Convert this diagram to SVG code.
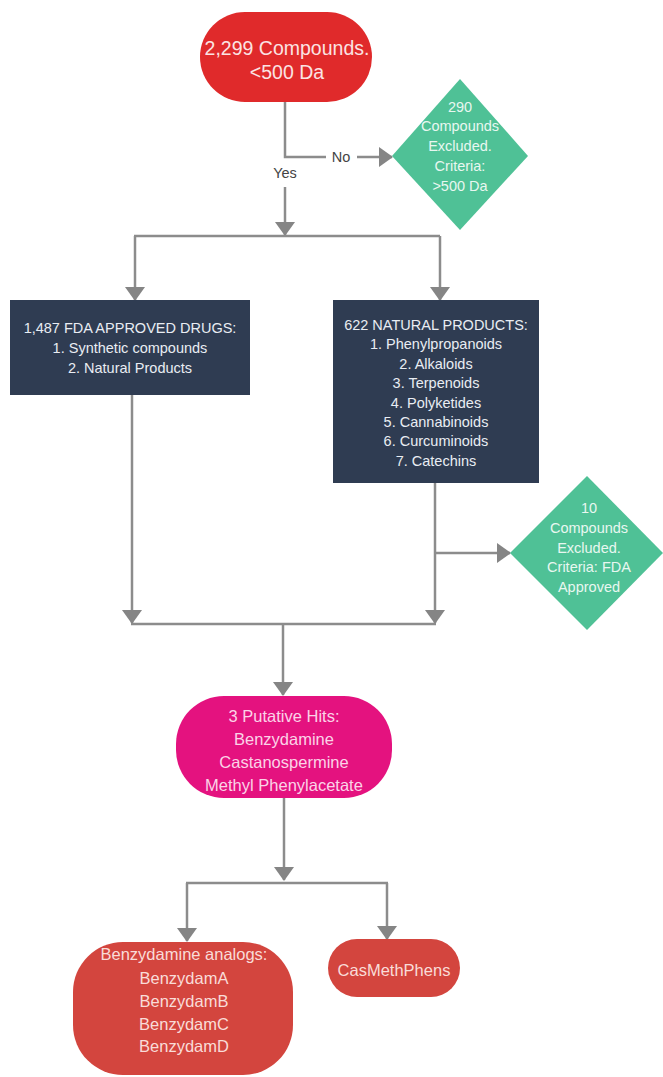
<svg xmlns="http://www.w3.org/2000/svg" width="663" height="1077" viewBox="0 0 663 1077">
<style>
text{font-family:"Liberation Sans",Arial,sans-serif;text-anchor:middle}
.t19{font-size:19.5px;fill:#fbe3e3}
.t14{font-size:14.5px;fill:#e9edf3}
.tg{font-size:14.5px;fill:#e8f7f0}
.tp{font-size:16.5px;fill:#fbd3e7}
.tr{font-size:16.5px;fill:#f9dcd8}
.lbl{font-size:14.5px;fill:#444}
.c{fill:none;stroke:#8c8c8c;stroke-width:2.5}
.a{marker-end:url(#ah)}
</style>
<defs>
<marker id="ah" markerUnits="userSpaceOnUse" markerWidth="14" markerHeight="20" viewBox="0 0 14 20" refX="13" refY="10" orient="auto">
<path d="M0,0 L14,10 L0,20 z" fill="#858585"/>
</marker>
</defs>
<rect width="663" height="1077" fill="#ffffff"/>
<g id="connectors">
<path class="c" d="M285,102 V157 H326"/>
<path class="c a" d="M357,157 H392"/>
<path class="c a" d="M285,187 V235"/>
<path class="c" d="M134,236 H440"/>
<path class="c a" d="M135,236 V300"/>
<path class="c a" d="M440,236 V300"/>
<path class="c a" d="M132,395 V623"/>
<path class="c a" d="M435,483 V623"/>
<path class="c a" d="M435,553 H510"/>
<path class="c" d="M131,624 H436"/>
<path class="c a" d="M283,624 V695"/>
<path class="c a" d="M284,798 V880"/>
<path class="c" d="M186,883 H388"/>
<path class="c a" d="M187,883 V941"/>
<path class="c a" d="M387,883 V939"/>
<text class="lbl" x="341" y="162">No</text>
<text class="lbl" x="285" y="178">Yes</text>
</g>
<g id="start">
<rect x="200" y="12" width="172" height="90" rx="45" fill="#e02a2b"/>
<text class="t19" x="287" y="55">2,299 Compounds.</text>
<text class="t19" x="287" y="79">&lt;500 Da</text>
</g>
<g id="excluded1">
<polygon points="460,79 528,156 460,230 392,156" fill="#4fc196"/>
<text class="tg" x="460" y="112">290</text>
<text class="tg" x="460" y="131">Compounds</text>
<text class="tg" x="460" y="151">Excluded.</text>
<text class="tg" x="460" y="171">Criteria:</text>
<text class="tg" x="460" y="191">&gt;500 Da</text>
</g>
<g id="fda">
<rect x="10" y="300" width="240" height="95" fill="#2f3c52"/>
<text class="t14" x="130" y="333">1,487 FDA APPROVED DRUGS:</text>
<text class="t14" x="130" y="353">1. Synthetic compounds</text>
<text class="t14" x="130" y="373">2. Natural Products</text>
</g>
<g id="natural">
<rect x="333" y="300" width="206" height="183" fill="#2f3c52"/>
<text class="t14" x="436" y="330">622 NATURAL PRODUCTS:</text>
<text class="t14" x="436" y="349.4">1. Phenylpropanoids</text>
<text class="t14" x="436" y="368.8">2. Alkaloids</text>
<text class="t14" x="436" y="388.2">3. Terpenoids</text>
<text class="t14" x="436" y="407.6">4. Polyketides</text>
<text class="t14" x="436" y="427">5. Cannabinoids</text>
<text class="t14" x="436" y="446.4">6. Curcuminoids</text>
<text class="t14" x="436" y="465.8">7. Catechins</text>
</g>
<g id="excluded2">
<polygon points="587,476 663,553 587,630 510,553" fill="#4fc196"/>
<text class="tg" x="589" y="513">10</text>
<text class="tg" x="589" y="533">Compounds</text>
<text class="tg" x="589" y="553">Excluded.</text>
<text class="tg" x="589" y="572">Criteria: FDA</text>
<text class="tg" x="589" y="592">Approved</text>
</g>
<g id="hits">
<rect x="176" y="696" width="216" height="102" rx="48" fill="#e4127f"/>
<text class="tp" x="284" y="722">3 Putative Hits:</text>
<text class="tp" x="284" y="745">Benzydamine</text>
<text class="tp" x="284" y="768">Castanospermine</text>
<text class="tp" x="284" y="791">Methyl Phenylacetate</text>
</g>
<g id="analogs">
<rect x="73" y="942" width="220" height="133" rx="50" fill="#d3453e"/>
<text class="tr" x="184" y="960">Benzydamine analogs:</text>
<text class="tr" x="184" y="984">BenzydamA</text>
<text class="tr" x="184" y="1007">BenzydamB</text>
<text class="tr" x="184" y="1030">BenzydamC</text>
<text class="tr" x="184" y="1052">BenzydamD</text>
</g>
<g id="casmeth">
<rect x="328" y="939" width="132" height="58" rx="29" fill="#d3453e"/>
<text class="tr" x="394" y="976">CasMethPhens</text>
</g>
</svg>
